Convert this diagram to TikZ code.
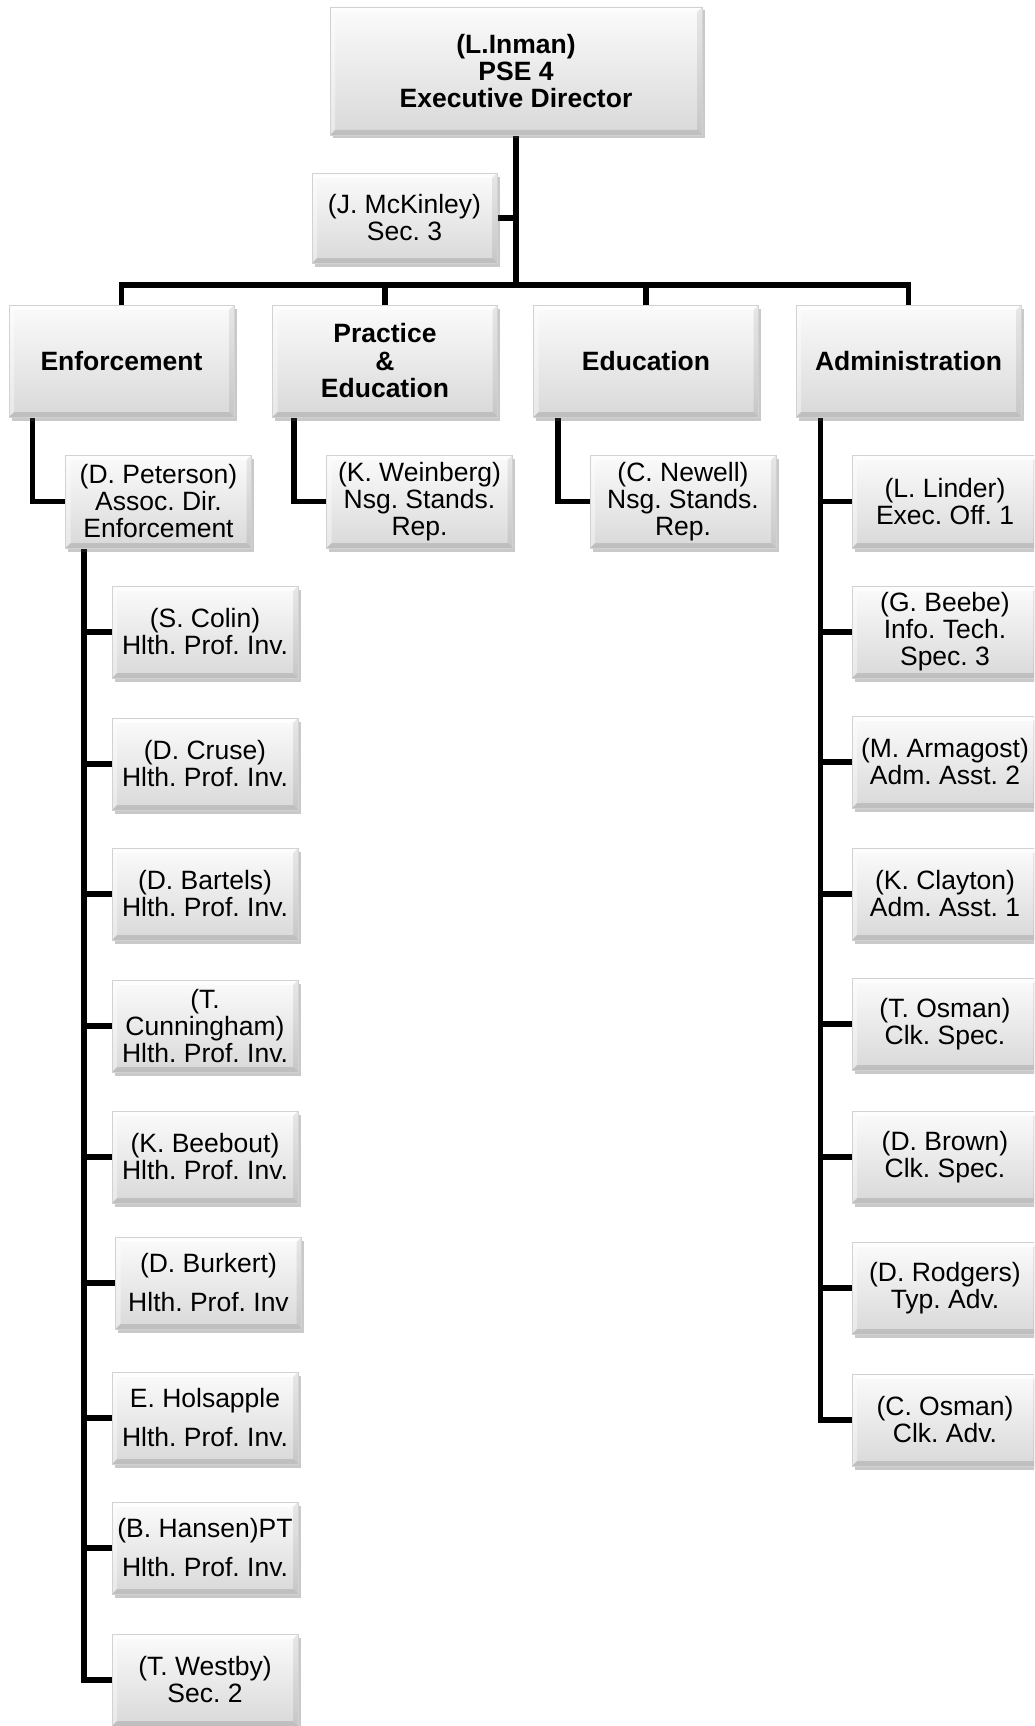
\documentclass[tikz,border=0pt]{standalone}
\usepackage{fontspec}
\setmainfont{Liberation Sans}
\usetikzlibrary{shadows,backgrounds,calc}
\frenchspacing

\tikzset{
  bevel/.style={path picture={
    \fill[white,opacity=0.6] (path picture bounding box.north west) -- (path picture bounding box.north east)
      -- ([xshift=-5pt,yshift=-5pt]path picture bounding box.north east) -- ([xshift=5pt,yshift=-5pt]path picture bounding box.north west) -- cycle;
    \fill[white,opacity=0.4] (path picture bounding box.north west) -- (path picture bounding box.south west)
      -- ([xshift=5pt,yshift=5pt]path picture bounding box.south west) -- ([xshift=5pt,yshift=-5pt]path picture bounding box.north west) -- cycle;
    \fill[black,opacity=0.12] (path picture bounding box.south west) -- (path picture bounding box.south east)
      -- ([xshift=-5pt,yshift=5pt]path picture bounding box.south east) -- ([xshift=5pt,yshift=5pt]path picture bounding box.south west) -- cycle;
    \fill[black,opacity=0.08] (path picture bounding box.north east) -- (path picture bounding box.south east)
      -- ([xshift=-5pt,yshift=5pt]path picture bounding box.south east) -- ([xshift=-5pt,yshift=-5pt]path picture bounding box.north east) -- cycle;
  }},
  box/.style={draw=gray!35, line width=0.8pt, top color=gray!3, bottom color=gray!30,
    drop shadow={shadow xshift=2.5pt, shadow yshift=-3.5pt, opacity=0.3, fill=black!70},
    bevel, align=center, inner sep=0pt, text=black,
    font=\fontsize{26.5}{27}\selectfont\frenchspacing},
  small/.style={box, minimum width=186pt, minimum height=92pt},
  head/.style={box, minimum width=225pt, minimum height=112pt,
    font=\bfseries\fontsize{26.5}{27.5}\selectfont\frenchspacing},
  link/.style={line width=5.5pt, black, line join=miter},
}

\begin{document}
\begin{tikzpicture}[x=1pt,y=-1pt]
\useasboundingbox (0,0) rectangle (1034,1726);
\clip (0,0) rectangle (1034,1726);

% top level
\node[box, minimum width=372pt, minimum height=128pt, font=\bfseries\fontsize{26.5}{27}\selectfont\frenchspacing]
  (top) at (516,71) {(L.Inman)\\PSE 4\\Executive Director};
\node[box, minimum width=185pt, minimum height=90pt] (mck) at (404.5,218) {(J. McKinley)\\Sec. 3};

% departments
\node[head] (enf) at (121.5,361) {Enforcement};
\node[head] (pra) at (385,361) {Practice\\\&\\Education};
\node[head] (edu) at (646,361) {Education};
\node[head] (adm) at (908.5,361) {Administration};

% second level
\node[small, minimum height=93pt] (pet) at (158.5,501.5) {(D. Peterson)\\Assoc. Dir.\\Enforcement};
\node[small, minimum height=93pt] (wei) at (419.5,501.5) {(K. Weinberg)\\Nsg. Stands.\\Rep.};
\node[small, minimum height=93pt] (new) at (683,501.5) {(C. Newell)\\Nsg. Stands.\\Rep.};
\node[small, minimum height=93pt] (lin) at (945,501.5) {(L. Linder)\\Exec. Off. 1};

% administration staff
\node[small] (bee) at (945,632) {(G. Beebe)\\Info. Tech.\\Spec. 3};
\node[small] (arm) at (945,762) {(M. Armagost)\\Adm. Asst. 2};
\node[small] (cla) at (945,894) {(K. Clayton)\\Adm. Asst. 1};
\node[small] (tos) at (945,1024) {(T. Osman)\\Clk. Spec.};
\node[small] (bro) at (945,1157) {(D. Brown)\\Clk. Spec.};
\node[small] (rod) at (945,1288) {(D. Rodgers)\\Typ. Adv.};
\node[small] (cos) at (945,1420) {(C. Osman)\\Clk. Adv.};

% enforcement staff
\node[small] (col) at (205,632) {(S. Colin)\\Hlth. Prof. Inv.};
\node[small] (cru) at (205,764) {(D. Cruse)\\Hlth. Prof. Inv.};
\node[small] (bar) at (205,894) {(D. Bartels)\\Hlth. Prof. Inv.};
\node[small] (cun) at (205,1026) {(T.\\Cunningham)\\Hlth. Prof. Inv.};
\node[small] (bbo) at (205,1157) {(K. Beebout)\\Hlth. Prof. Inv.};
\node[small] (bur) at (208.5,1283) {(D. Burkert)\\[12pt]Hlth. Prof. Inv};
\node[small] (hol) at (205,1418) {E. Holsapple\\[12pt]Hlth. Prof. Inv.};
\node[small] (han) at (205,1548) {(B. Hansen)PT\\[12pt]Hlth. Prof. Inv.};
\node[small] (wes) at (205,1680) {(T. Westby)\\Sec. 2};

\begin{pgfonlayer}{background}
  \coordinate (bus) at (516,285);
  \draw[link] (top.south) -- (bus);
  \draw[link] (mck.east) -- (mck.east -| top.south);
  \draw[link] (enf.north) |- (bus) -| (adm.north);
  \draw[link] (pra.north) -- (pra.north |- bus);
  \draw[link] (edu.north) -- (edu.north |- bus);

  \draw[link] ([xshift=24pt]enf.south west) |- (pet.west);
  \draw[link] ([xshift=22pt]pra.south west) |- (wei.west);
  \draw[link] ([xshift=25pt]edu.south west) |- (new.west);

  \coordinate (av) at ([xshift=25pt]adm.south west);
  \draw[link] (av) |- (cos.west);
  \foreach \n in {lin,bee,arm,cla,tos,bro,rod}
    \draw[link] (\n.west) -- (\n.west -| av);

  \coordinate (ev) at ([xshift=19pt]pet.south west);
  \draw[link] (ev) |- (wes.west);
  \foreach \n in {col,cru,bar,cun,bbo,bur,hol,han}
    \draw[link] (\n.west) -- (\n.west -| ev);
\end{pgfonlayer}
\end{tikzpicture}
\end{document}
